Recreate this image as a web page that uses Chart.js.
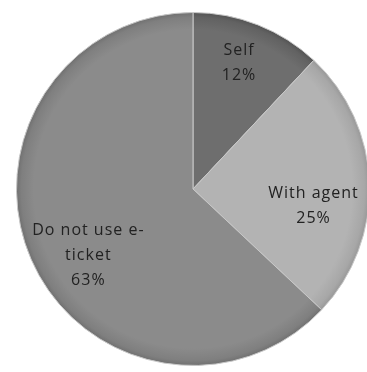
<!DOCTYPE html>
<html>
<head>
<meta charset="utf-8">
<script src="https://cdn.jsdelivr.net/npm/chart.js@4.4.0/dist/chart.umd.min.js"></script>
<style>
  html, body { margin: 0; padding: 0; background: #fff; overflow: hidden; }
  #wrap { width: 380px; height: 372px; }
</style>
</head>
<body>
<div id="wrap"><canvas id="chart1"></canvas></div>
<script>
// dados do gráfico
const categories = ['Self', 'With agent', 'Do not use e-ticket'];
const shares = [12, 25, 63];
const labelLines = [['Self'], ['With agent'], ['Do not use e-', 'ticket']];
const sliceColors = ['#6e6e6e', '#b3b3b3', '#8b8b8b'];

// gradiente radial leve, borda mais escura
function shade(hex, amt) {
  const n = parseInt(hex.slice(1), 16);
  const f = c => Math.max(0, Math.min(255, c + amt));
  return 'rgb(' + f(n >> 16) + ',' + f((n >> 8) & 255) + ',' + f(n & 255) + ')';
}

function sliceFill(context) {
  const chart = context.chart;
  const area = chart.chartArea;
  if (!area) return sliceColors[context.dataIndex];
  const cx = (area.left + area.right) / 2;
  const cy = (area.top + area.bottom) / 2;
  const r = Math.min(area.right - area.left, area.bottom - area.top) / 2;
  const g = chart.ctx.createRadialGradient(cx, cy, 0, cx, cy, r);
  const base = sliceColors[context.dataIndex];
  g.addColorStop(0, base);
  g.addColorStop(0.9, base);
  g.addColorStop(0.97, shade(base, -12));
  g.addColorStop(1, shade(base, -28));
  return g;
}

const sliceLabels = {
  id: 'sliceLabels',
  afterDatasetsDraw(chart) {
    const ctx = chart.ctx;
    const meta = chart.getDatasetMeta(0);
    ctx.save();
    ctx.font = '16px "Open Sans", sans-serif';
    ctx.letterSpacing = '1px';
    ctx.fillStyle = '#222';
    ctx.textAlign = 'center';
    ctx.textBaseline = 'middle';
    const frac = [0.77, 0.70, 0.72];
    const nudge = [[-4, 0], [-3, 21], [12, 16]];
    const lineH = 25;
    meta.data.forEach((arc, i) => {
      const p = arc.getProps(['x', 'y', 'startAngle', 'endAngle', 'outerRadius'], true);
      const mid = (p.startAngle + p.endAngle) / 2;
      const rr = p.outerRadius * frac[i];
      const x = p.x + Math.cos(mid) * rr + nudge[i][0];
      const y = p.y + Math.sin(mid) * rr + nudge[i][1];
      const lines = labelLines[i].concat([shares[i] + '%']);
      const top = y - (lines.length - 1) * lineH / 2;
      lines.forEach((t, k) => ctx.fillText(t, x, top + k * lineH));
    });
    ctx.restore();
  }
};

const ctx = document.getElementById('chart1').getContext('2d');
window.chart1Instance = new Chart(ctx, {
  type: 'pie',
  data: {
    labels: categories,
    datasets: [{
      data: shares,
      backgroundColor: sliceFill,
      borderColor: '#c8c8c8',
      borderWidth: 1
    }]
  },
  options: {
    responsive: true,
    maintainAspectRatio: false,
    animation: false,
    layout: { padding: { left: 16, right: 10, top: 12, bottom: 6 } },
    plugins: { legend: { display: false }, tooltip: { enabled: false } }
  },
  plugins: [sliceLabels]
});
</script>
</body>
</html>
